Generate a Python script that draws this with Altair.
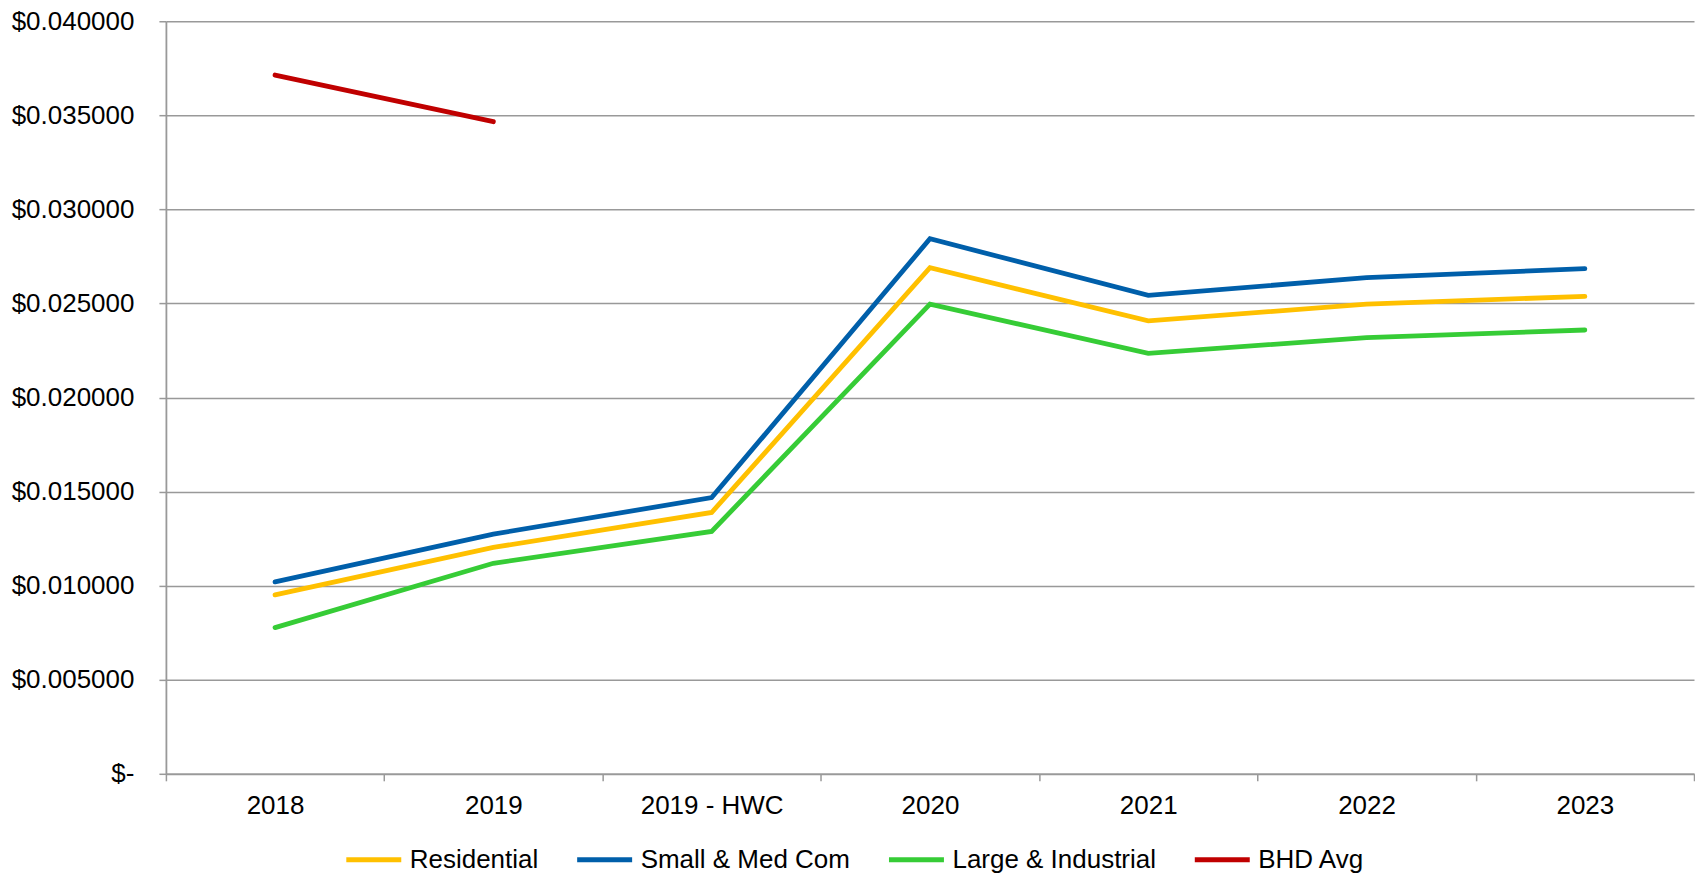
import altair as alt
import pandas as pd

categories = ["2018", "2019", "2019 - HWC", "2020", "2021", "2022", "2023"]
series_names = ["Residential", "Small & Med Com", "Large & Industrial", "BHD Avg"]
residential = [0.00951, 0.01203, 0.01389, 0.02690, 0.02407, 0.02496, 0.02538]
small_med_com = [0.01020, 0.01274, 0.01468, 0.02844, 0.02543, 0.02637, 0.02685]
large_industrial = [0.00777, 0.01119, 0.01288, 0.02496, 0.02235, 0.02318, 0.02359]
bhd_avg = [0.03714, 0.03466, None, None, None, None, None]
colors = ["#FFC000", "#005FAA", "#36CC36", "#C00000"]

rows = []
for name, vals in zip(series_names, [residential, small_med_com, large_industrial, bhd_avg]):
    for i, (c, v) in enumerate(zip(categories, vals)):
        if v is not None:
            rows.append({"Year": c, "Series": name, "Value": v, "order": i})
df = pd.DataFrame(rows)

FONT = "Liberation Sans"
GRID = "#999999"

chart = alt.Chart(df).mark_line(strokeWidth=4.8, strokeCap="round", strokeJoin="miter").encode(
    x=alt.X("Year:N", sort=categories,
            scale=alt.Scale(type="band", paddingInner=0, paddingOuter=0),
            bandPosition=0.5,
            axis=alt.Axis(title=None, tickBand="extent", labelAngle=0, labelFontSize=26,
                          labelFont=FONT, labelColor="#000000", labelPadding=12,
                          tickSize=7, tickColor=GRID, tickWidth=1.5,
                          domainColor=GRID, domainWidth=1.8, grid=False)),
    y=alt.Y("Value:Q", scale=alt.Scale(domain=[0, 0.04], nice=False),
            axis=alt.Axis(title=None, values=[i * 0.005 for i in range(9)],
                          labelExpr="datum.value == 0 ? '$-\u00a0\u00a0' : '$' + format(datum.value, '.6f')",
                          labelFontSize=26, labelFont=FONT, labelColor="#000000",
                          labelPadding=25, tickSize=7, tickColor=GRID, tickWidth=1.5,
                          domainColor=GRID, domainWidth=1.8,
                          grid=True, gridColor=GRID, gridWidth=1.5)),
    color=alt.Color("Series:N",
                    scale=alt.Scale(domain=series_names, range=colors),
                    legend=alt.Legend(title=None, orient="none", legendX=178, legendY=809,
                                      direction="horizontal", symbolType="stroke",
                                      symbolSize=3025, symbolStrokeWidth=5,
                                      labelFontSize=26, labelFont=FONT, labelColor="#000000",
                                      labelLimit=500, labelOffset=6, columnPadding=28,
                                      padding=0)),
    order=alt.Order("order:Q"),
).properties(
    width=1529, height=753,
    padding={"left": 3, "top": 0, "right": 0, "bottom": 0},
).configure_view(stroke=None)

chart.save("out.html", embed_options={"renderer": "svg", "actions": False})
